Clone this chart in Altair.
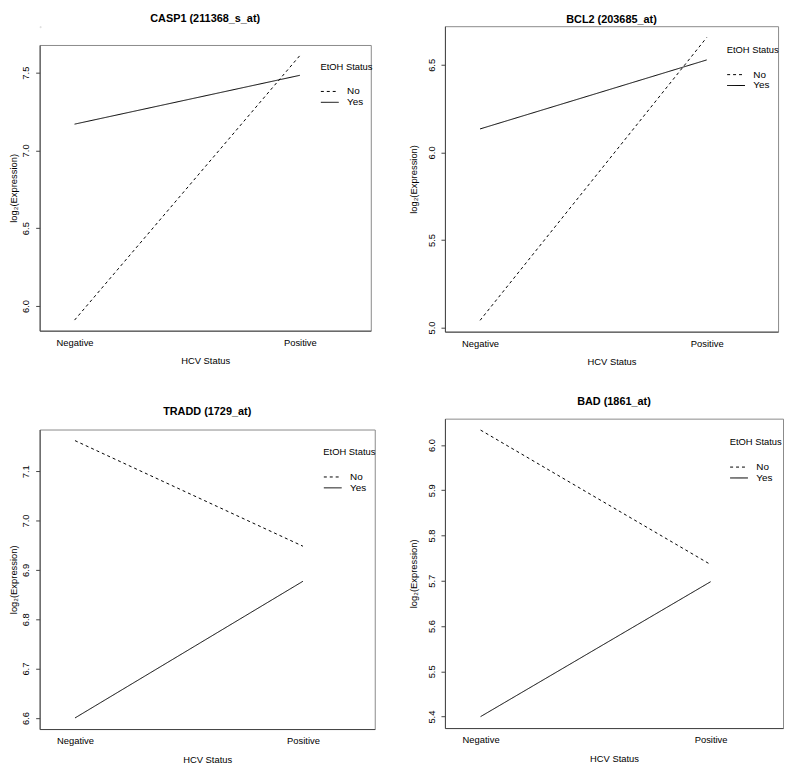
import altair as alt
import pandas as pd

hcv = ["Negative", "Positive"]
etoh = ["No", "Yes"]

titles = ["CASP1 (211368_s_at)", "BCL2 (203685_at)", "TRADD (1729_at)", "BAD (1861_at)"]

casp1_no = [5.909, 7.610]
casp1_yes = [7.169, 7.483]
bcl2_no = [5.041, 6.656]
bcl2_yes = [6.134, 6.528]
tradd_no = [7.162, 6.948]
tradd_yes = [6.600, 6.877]
bad_no = [6.033, 5.736]
bad_yes = [5.400, 5.698]

casp1_ticks = [6.0, 6.5, 7.0, 7.5]
bcl2_ticks = [5.0, 5.5, 6.0, 6.5]
tradd_ticks = [6.6, 6.7, 6.8, 6.9, 7.0, 7.1]
bad_ticks = [5.4, 5.5, 5.6, 5.7, 5.8, 5.9, 6.0]

FONT = "Liberation Sans"


def panel(title, no_vals, yes_vals, ticks, w, h, title_offset, ytitle_pad, legend_x, legend_y):
    df = pd.DataFrame({
        "HCV": hcv + hcv,
        "EtOH": ["No"] * 2 + ["Yes"] * 2,
        "value": no_vals + yes_vals,
    })
    lo, hi = min(df["value"]), max(df["value"])
    ext = (hi - lo) * 0.04
    return (
        alt.Chart(
            df,
            title=alt.TitleParams(
                title, offset=title_offset, font=FONT, fontSize=11,
                fontWeight="bold", color="#000", anchor="middle",
            ),
        )
        .mark_line(color="#000", strokeWidth=1)
        .encode(
            x=alt.X(
                "HCV:N", sort=hcv,
                scale=alt.Scale(type="point", padding=0.235, align=0.33),
                axis=alt.Axis(
                    title="HCV Status", labelAngle=0, ticks=False, tickSize=0,
                    labelPadding=7, titlePadding=9, grid=False,
                    domainColor="#444", labelFontSize=9.5, titleFontSize=9.5,
                    titleFontWeight="normal", labelColor="#000", titleColor="#000",
                    labelFont=FONT, titleFont=FONT,
                ),
            ),
            y=alt.Y(
                "value:Q",
                scale=alt.Scale(domain=[lo - ext, hi + ext], nice=False, zero=False),
                axis=alt.Axis(
                    values=ticks, format=".1f", title="log₂(Expression)",
                    labelAngle=270, labelAlign="center", labelBaseline="bottom",
                    tickSize=4, labelPadding=5, titlePadding=ytitle_pad, grid=False,
                    domainColor="#444", tickColor="#444", labelFontSize=9.5,
                    titleFontSize=9.5, titleFontWeight="normal", labelColor="#000",
                    titleColor="#000", labelFont=FONT, titleFont=FONT,
                ),
            ),
            strokeDash=alt.StrokeDash(
                "EtOH:N", sort=etoh,
                scale=alt.Scale(domain=etoh, range=[[3, 3], [1, 0]]),
                legend=alt.Legend(
                    title="EtOH Status", orient="none", legendX=legend_x, legendY=legend_y,
                    titleFontWeight="normal", titleFontSize=9.5, titleFont=FONT,
                    titleColor="#000", labelFontSize=10, labelFont=FONT, labelColor="#000",
                    symbolType="M-1.8,0H1.8", symbolSize=100, symbolStrokeColor="#000",
                    symbolStrokeWidth=1, symbolOffset=4, rowPadding=0, titlePadding=15,
                    labelOffset=12, padding=0,
                ),
            ),
        )
        .properties(width=w, height=h, view=alt.ViewBackground(stroke="#8a8a8a"))
    )


p1 = panel(titles[0], casp1_no, casp1_yes, casp1_ticks, 335, 289, 21, 2, 284, 17)
p2 = panel(titles[1], bcl2_no, bcl2_yes, bcl2_ticks, 337, 309, 1, 8, 285, 19)
p3 = panel(titles[2], tradd_no, tradd_yes, tradd_ticks, 339, 303, 13, 2, 287, 18)
p4 = panel(titles[3], bad_no, bad_yes, bad_ticks, 342, 313, 12, 8, 288, 19)

spacer = (
    alt.Chart(pd.DataFrame({"s": [0]}))
    .mark_point(opacity=0)
    .encode(x=alt.value(0), y=alt.value(0))
    .properties(width=1, height=1)
)


def ind(c):
    return c.resolve_scale(strokeDash="independent").resolve_legend(strokeDash="independent")


left_inner = ind(alt.vconcat(p1, p3, spacing=100, bounds="flush"))
left_col = ind(alt.vconcat(spacer, left_inner, spacing=18, bounds="flush"))
right_col = ind(alt.vconcat(p2, p4, spacing=88, bounds="flush"))

chart = (
    ind(alt.hconcat(left_col, right_col, spacing=410, bounds="flush"))
    .configure_view(stroke="transparent")
    .configure(font=FONT, padding=0, background="white")
)

chart.save("out.html", embed_options={"renderer": "svg", "actions": False})
